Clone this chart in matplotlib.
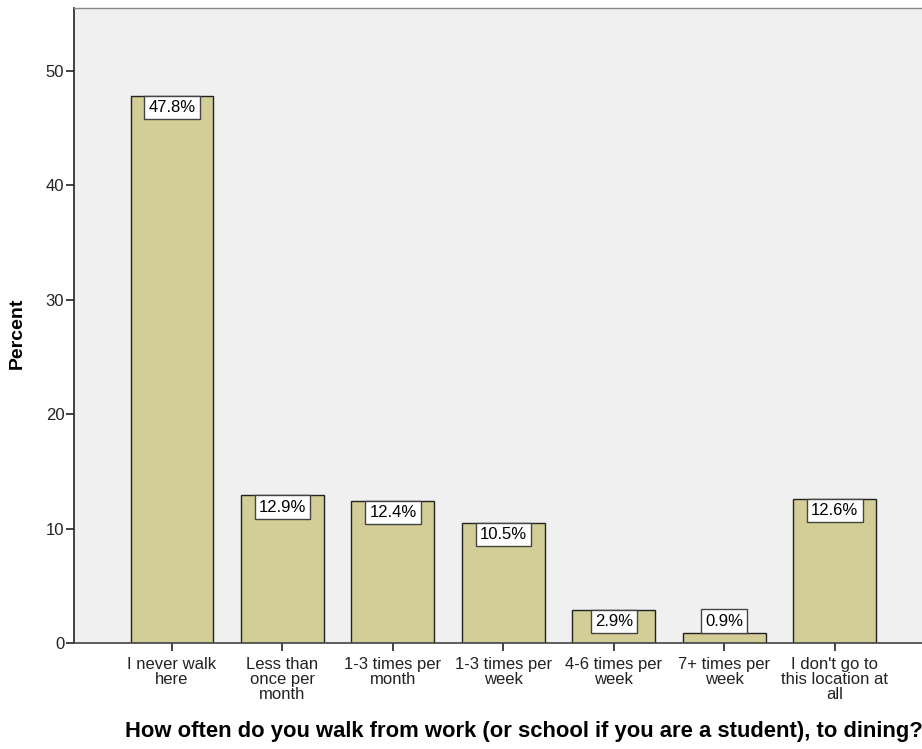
import matplotlib
matplotlib.use("Agg")
import matplotlib.pyplot as plt

categories = ["I never walk\nhere", "Less than\nonce per\nmonth", "1-3 times per\nmonth",
              "1-3 times per\nweek", "4-6 times per\nweek", "7+ times per\nweek",
              "I don't go to\nthis location at\nall"]
percents = [47.8, 12.9, 12.4, 10.5, 2.9, 0.9, 12.6]
yticks = [0, 10, 20, 30, 40, 50]

plt.rcParams['font.family'] = ['Liberation Sans', 'DejaVu Sans']

fig = plt.figure(figsize=(9.22, 7.49), dpi=100)
ax = fig.add_axes([74/922, 106/749, 1 - 74/922, (643-8)/749])
ax.set_facecolor('#F0F0F0')

x = list(range(len(categories)))
ax.bar(x, percents, width=0.75, color='#D3CE97', edgecolor='#222222', linewidth=1.0, zorder=2)

ax.set_xlim(-0.887, 6.79)
ax.set_ylim(0, 55.5)
ax.set_yticks(yticks)
ax.set_yticklabels([str(t) for t in yticks], fontsize=12, color='#222222')
ax.set_xticks(x)
ax.set_xticklabels(categories, fontsize=12, color='#222222', linespacing=1.0)
ax.tick_params(axis='both', length=6, width=1.2, color='#222222')
ax.tick_params(axis='x', pad=4)
ax.tick_params(axis='y', pad=1)

ax.spines['right'].set_visible(False)
ax.spines['top'].set_color('#888888')
ax.spines['top'].set_linewidth(1.0)
ax.spines['left'].set_color('#222222')
ax.spines['bottom'].set_color('#444444')
ax.spines['left'].set_linewidth(1.2)
ax.spines['bottom'].set_linewidth(1.2)

bbox = dict(boxstyle='square,pad=0.25', facecolor='white', edgecolor='#444444', linewidth=1.0)
for xi, v in zip(x, percents):
    if v < 2.0:
        ax.annotate(f"{v:.1f}%", (xi, v), xytext=(0, 3), textcoords='offset points',
                    ha='center', va='bottom', fontsize=12, bbox=bbox, zorder=3)
    else:
        ax.annotate(f"{v:.1f}%", (xi, v), xytext=(0, -3), textcoords='offset points',
                    ha='center', va='top', fontsize=12, bbox=bbox, zorder=3)

fig.text(17/922, 1 - 333/749, "Percent", fontsize=14, fontweight='bold',
         rotation=90, ha='center', va='center')
fig.text(523.5/922, 17/749, "How often do you walk from work (or school if you are a student), to dining?",
         fontsize=15.8, fontweight='bold', ha='center', va='center')

fig.savefig("out.png", dpi=100)
